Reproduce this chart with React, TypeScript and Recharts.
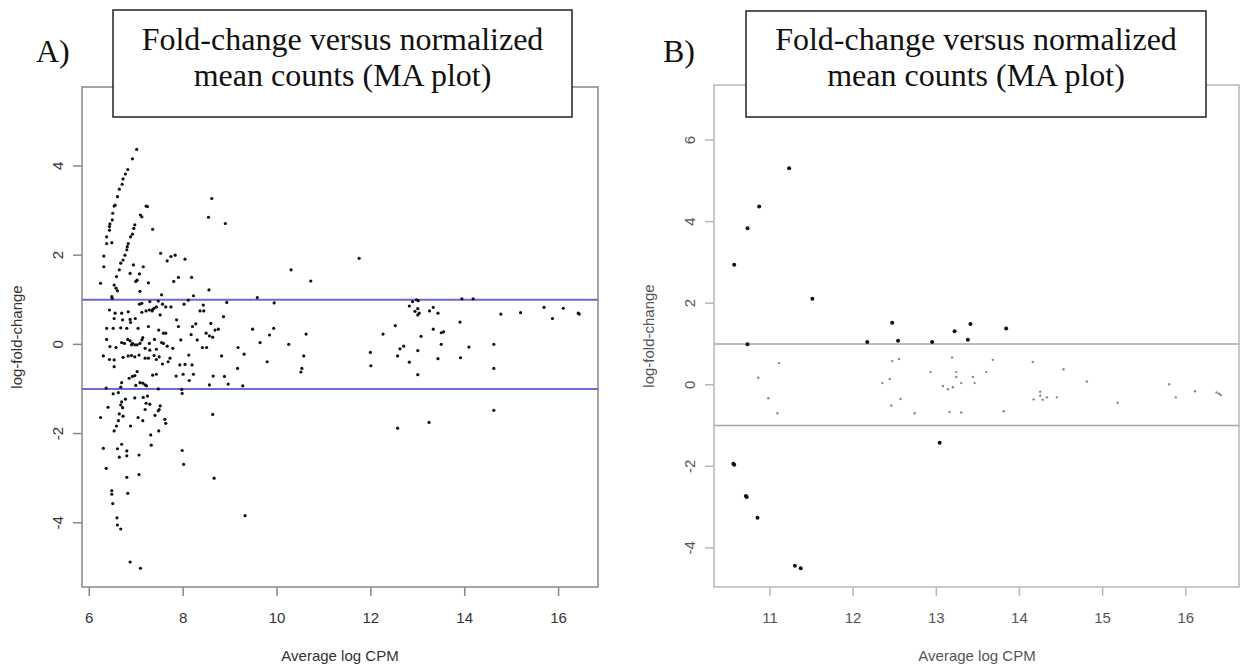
import React from "react";
import {
  ScatterChart,
  Scatter,
  XAxis,
  YAxis,
  ReferenceLine,
  ReferenceArea,
} from "recharts";

type Pt = [number, number];

// ---- panel A (blue thresholds) ----
const A_X_TICKS = [6, 8, 10, 12, 14, 16];
const A_Y_TICKS = [-4, -2, 0, 2, 4];

// the two arcs of points climbing up on the left
const aArcs: Pt[] = [
  [7.01, 4.37], [6.92, 4.16], [6.82, 3.92], [6.77, 3.82], [6.72, 3.71], [6.7, 3.59],
  [6.64, 3.48], [6.6, 3.31], [6.55, 3.12], [6.53, 3.1], [6.5, 2.94], [6.49, 2.79],
  [6.44, 2.7], [6.43, 2.64], [6.43, 2.56], [6.37, 2.41], [6.37, 2.26], [6.48, 2.28],
  [6.31, 1.98], [6.31, 1.74], [6.24, 1.37],
  [7.21, 3.1], [7.24, 3.09], [7.09, 2.9], [7.12, 2.86], [6.97, 2.68], [6.95, 2.6],
  [6.92, 2.47], [6.88, 2.41], [6.83, 2.26], [6.81, 2.19], [6.8, 2.12], [6.76, 2.0],
  [6.72, 1.89], [6.67, 1.82], [6.64, 1.67], [6.58, 1.52], [6.53, 1.33], [6.57, 1.26],
  [6.6, 1.2], [6.48, 1.07], [6.49, 1.03],
];

const aUpper: Pt[] = [
  [7.35, 2.58], [7.52, 2.04], [7.66, 1.87], [7.74, 1.97], [7.83, 2.0], [8.04, 1.91],
  [6.94, 1.78], [7.15, 1.74], [7.07, 1.58], [6.87, 1.59], [7.02, 1.44], [6.99, 1.41],
  [7.26, 1.38], [7.8, 1.41], [7.9, 1.5], [8.18, 1.5], [7.08, 1.19], [7.54, 1.11],
  [8.22, 1.09], [8.55, 1.22], [8.61, 3.27], [8.54, 2.85], [8.9, 2.71], [8.11, 0.99],
  [9.58, 1.05], [10.3, 1.67], [10.72, 1.42], [11.75, 1.93],
];

const aBand: Pt[] = [
  [8.93, 0.94], [9.94, 0.93], [7.29, 0.96], [7.47, 0.97], [7.07, 0.9], [7.12, 0.92],
  [7.38, 0.81], [7.35, 0.78], [7.43, 0.84], [7.56, 0.9], [7.63, 0.84], [7.74, 0.84],
  [8.02, 0.9], [8.43, 0.88], [6.43, 0.77], [6.55, 0.7], [6.69, 0.7], [6.83, 0.73],
  [7.21, 0.75], [7.28, 0.77], [7.51, 0.66], [6.53, 0.58], [6.71, 0.55], [6.87, 0.56],
  [6.98, 0.58], [7.12, 0.72], [7.34, 0.75], [7.86, 0.55], [8.36, 0.75], [8.44, 0.75],
  [6.37, 0.36], [6.51, 0.36], [6.67, 0.37], [6.8, 0.36], [6.88, 0.49], [7.04, 0.36],
  [7.26, 0.4], [7.48, 0.32], [7.58, 0.25], [7.63, 0.25], [7.9, 0.4], [8.2, 0.4],
  [8.27, 0.46], [8.59, 0.47], [8.68, 0.32], [8.75, 0.34], [8.86, 0.62], [8.49, 0.25],
  [8.56, 0.19], [8.63, 0.16], [9.48, 0.34], [9.93, 0.36], [9.84, 0.21],
  [6.37, 0.11], [6.44, -0.05], [6.57, -0.07], [6.69, 0.04], [6.75, 0.02], [6.82, 0.11],
  [6.87, 0.08], [6.9, -0.01], [6.92, 0.02], [6.97, -0.01], [7.02, -0.01], [7.08, 0.02],
  [7.12, 0.1], [7.14, 0.15], [7.19, -0.09], [7.28, 0.02], [7.29, -0.13], [7.39, 0.11],
  [7.43, -0.11], [7.54, 0.04], [7.58, 0.02], [7.66, -0.04], [7.78, -0.09], [7.95, 0.1],
  [8.17, 0.22], [8.3, 0.1], [8.41, -0.07], [8.5, -0.07], [9.17, -0.07], [9.64, 0.04],
  [6.3, -0.26], [6.43, -0.34], [6.53, -0.35], [6.53, -0.5], [6.72, -0.29], [6.83, -0.26],
  [6.9, -0.25], [6.97, -0.28], [7.06, -0.24], [7.19, -0.31], [7.26, -0.31], [7.38, -0.25],
  [7.43, -0.34], [7.49, -0.28], [7.56, -0.44], [7.68, -0.39], [7.72, -0.31], [7.93, -0.46],
  [8.04, -0.45], [8.12, -0.24], [8.19, -0.46], [8.82, -0.26], [9.3, -0.22], [9.79, -0.39],
  [9.16, -0.54], [6.69, -0.86], [6.85, -0.76], [6.92, -0.72], [6.97, -0.7], [7.02, -0.61],
  [6.99, -0.92], [7.08, -0.86], [7.14, -0.87], [7.19, -0.91], [7.22, -0.93], [7.35, -0.69],
  [7.43, -0.67], [7.85, -0.71], [8.0, -0.67], [8.22, -0.67], [8.13, -0.81], [8.64, -0.71],
  [8.88, -0.72], [8.96, -0.89], [9.27, -0.93], [8.56, -0.91], [6.36, -0.98], [6.67, -0.96],
  [7.47, -1.0], [7.97, -1.01],
  [10.62, 0.23], [10.25, 0.0], [10.57, -0.26], [10.53, -0.54], [10.51, -0.62],
  [12.82, 0.86], [12.89, 0.96], [12.97, 1.0], [13.01, 0.98], [12.94, 0.74], [13.0, 0.8],
  [13.03, 0.7], [13.0, 0.66], [13.25, 0.75], [13.33, 0.83], [13.43, 0.7], [13.94, 1.02],
  [14.18, 1.02], [13.9, 0.5], [12.52, 0.42], [12.26, 0.23], [13.33, 0.34], [13.5, 0.26],
  [13.55, 0.28], [13.07, 0.18], [13.5, 0.0], [12.7, -0.04], [12.62, -0.1], [12.57, -0.26],
  [13.0, -0.14], [12.82, -0.4], [13.43, -0.32], [13.91, -0.3], [14.09, -0.06], [13.0, -0.68],
  [11.99, -0.18], [12.0, -0.48], [14.62, 0.0], [14.62, -0.54], [14.77, 0.68], [15.19, 0.71],
  [15.69, 0.83], [15.87, 0.58], [16.1, 0.81], [16.42, 0.7], [16.44, 0.68],
];

const aLower: Pt[] = [
  [6.51, -1.11], [6.62, -1.08], [6.77, -1.23], [6.97, -1.2], [7.15, -1.19], [7.24, -1.16],
  [7.98, -1.1], [6.4, -1.41], [6.69, -1.29], [6.67, -1.36], [6.71, -1.42], [6.24, -1.64],
  [6.64, -1.56], [6.72, -1.61], [7.21, -1.32], [7.29, -1.34], [7.19, -1.46], [7.51, -1.38],
  [7.49, -1.46], [7.47, -1.49], [7.04, -1.64], [7.14, -1.71], [7.4, -1.59], [7.61, -1.68],
  [7.63, -1.77], [6.62, -1.71], [6.58, -1.83], [6.53, -1.94], [6.88, -1.83], [7.48, -1.94],
  [7.31, -2.03], [7.32, -2.26], [6.3, -2.33], [6.6, -2.34], [6.69, -2.24], [6.8, -2.39],
  [6.8, -2.5], [6.64, -2.53], [7.06, -2.48], [6.36, -2.78], [7.98, -2.38], [8.01, -2.69],
  [8.63, -1.57], [8.66, -3.0], [6.8, -2.98], [7.06, -2.92], [6.48, -3.28], [6.48, -3.36],
  [6.82, -3.34], [6.5, -3.57], [6.59, -3.89], [6.6, -4.05], [6.67, -4.14], [9.32, -3.84],
  [6.87, -4.88], [7.09, -5.02], [14.62, -1.48], [12.57, -1.88], [13.24, -1.75],
];

// ---- panel B (grey thresholds) ----
const B_X_TICKS = [11, 12, 13, 14, 15, 16];
const B_Y_TICKS = [-4, -2, 0, 2, 4, 6];

const bDark: Pt[] = [
  [11.23, 5.31], [10.87, 4.37], [10.73, 3.84], [10.57, 2.94], [11.51, 2.11], [12.47, 1.52],
  [12.54, 1.08], [12.17, 1.05], [10.73, 0.99], [13.41, 1.49], [13.22, 1.31], [13.38, 1.1],
  [12.95, 1.05], [13.84, 1.38], [13.04, -1.42], [10.56, -1.94], [10.57, -1.96],
  [10.71, -2.73], [10.72, -2.75], [10.85, -3.26], [11.3, -4.44], [11.37, -4.5],
];

const bLight: Pt[] = [
  [11.11, 0.53], [10.86, 0.17], [12.47, 0.58], [12.55, 0.63], [12.35, 0.04], [12.44, 0.14],
  [10.98, -0.33], [11.09, -0.7], [12.46, -0.51], [12.57, -0.35], [12.74, -0.7],
  [13.19, 0.67], [13.68, 0.61], [14.16, 0.56], [12.93, 0.31], [13.24, 0.31], [13.24, 0.19],
  [13.6, 0.31], [14.53, 0.38], [13.44, 0.19], [13.3, 0.04], [13.46, 0.04], [13.08, -0.03],
  [13.14, -0.11], [13.2, -0.06], [14.81, 0.08], [14.25, -0.17], [14.25, -0.27], [14.17, -0.36],
  [14.28, -0.37], [14.33, -0.31], [14.45, -0.31], [15.18, -0.44], [15.8, 0.01], [15.88, -0.31],
  [16.11, -0.16], [16.37, -0.19], [16.4, -0.22], [16.42, -0.25], [13.16, -0.67], [13.3, -0.68],
  [13.81, -0.65],
];

const toRows = (pts: Pt[]) => pts.map(([x, y]) => ({ x, y }));

const SANS = "'Liberation Sans', Arial, sans-serif";
const SERIF = "'Liberation Serif', 'Times New Roman', serif";

type Series = { rows: Pt[]; r: number; fill: string };

type PanelProps = {
  left: number;
  width: number;
  plot: { l: number; r: number; t: number; b: number };
  xDomain: [number, number];
  yDomain: [number, number];
  xTicks: number[];
  yTicks: number[];
  lineColor: string;
  lineWidth: number;
  boxColor: string;
  textColor: string;
  series: Series[];
};

function Panel(p: PanelProps) {
  const H = 668;
  const AX = 40;
  const yLabelX = p.plot.l - 19 - p.left; // baseline of rotated tick labels
  const xLabelY = 623;

  const YTick = (props: any) => (
    <text
      x={yLabelX}
      y={props.y}
      transform={`rotate(-90 ${yLabelX} ${props.y})`}
      textAnchor="middle"
      fontFamily={SANS}
      fontSize={15}
      fill={p.textColor}
    >
      {props.payload.value}
    </text>
  );
  const XTick = (props: any) => (
    <text
      x={props.x}
      y={xLabelY}
      textAnchor="middle"
      fontFamily={SANS}
      fontSize={15}
      fill={p.textColor}
    >
      {props.payload.value}
    </text>
  );

  return (
    <div style={{ position: "absolute", left: p.left, top: 0 }}>
      <ScatterChart
        width={p.width}
        height={H}
        margin={{
          top: p.plot.t,
          bottom: H - p.plot.b - AX,
          left: p.plot.l - p.left - AX,
          right: p.left + p.width - p.plot.r,
        }}
      >
        <XAxis
          type="number"
          dataKey="x"
          domain={p.xDomain}
          ticks={p.xTicks}
          allowDataOverflow
          height={AX}
          axisLine={false}
          tickSize={9}
          tickLine={{ stroke: p.boxColor, strokeWidth: 1.5 }}
          tick={XTick}
          interval={0}
        />
        <YAxis
          type="number"
          dataKey="y"
          domain={p.yDomain}
          ticks={p.yTicks}
          allowDataOverflow
          width={AX}
          axisLine={false}
          tickSize={9}
          tickLine={{ stroke: p.boxColor, strokeWidth: 1.5 }}
          tick={YTick}
          interval={0}
        />
        <ReferenceArea
          x1={p.xDomain[0]}
          x2={p.xDomain[1]}
          y1={p.yDomain[0]}
          y2={p.yDomain[1]}
          fill="#fff"
          fillOpacity={0}
          stroke={p.boxColor}
          strokeWidth={1.5}
        />
        <ReferenceLine y={1} stroke={p.lineColor} strokeWidth={p.lineWidth} />
        <ReferenceLine y={-1} stroke={p.lineColor} strokeWidth={p.lineWidth} />
        {p.series.map((s, i) => (
          <Scatter
            key={i}
            data={toRows(s.rows)}
            isAnimationActive={false}
            shape={(d: any) => <circle cx={d.cx} cy={d.cy} r={s.r} fill={s.fill} />}
          />
        ))}
      </ScatterChart>
    </div>
  );
}

function TitleBox({ x, y, w, h }: { x: number; y: number; w: number; h: number }) {
  const cx = x + w / 2;
  return (
    <g>
      <rect x={x} y={y} width={w} height={h} fill="#fff" stroke="#222" strokeWidth={1.5} />
      <text x={cx} y={50} textAnchor="middle" fontFamily={SERIF} fontSize={32} fill="#111">
        Fold-change versus normalized
      </text>
      <text x={cx} y={86} textAnchor="middle" fontFamily={SERIF} fontSize={32} fill="#111">
        mean counts (MA plot)
      </text>
    </g>
  );
}

export default function App() {
  return (
    <div
      style={{
        position: "absolute",
        left: 0,
        top: 0,
        width: 1244,
        height: 668,
        background: "#fff",
        overflow: "hidden",
      }}
    >
      <Panel
        left={0}
        width={620}
        plot={{ l: 82, r: 598, t: 87, b: 587 }}
        xDomain={[5.845, 16.84]}
        yDomain={[-5.44, 5.77]}
        xTicks={A_X_TICKS}
        yTicks={A_Y_TICKS}
        lineColor="#6a6ad8"
        lineWidth={2}
        boxColor="#888"
        textColor="#333"
        series={[
          { rows: aArcs, r: 1.6, fill: "#111" },
          { rows: aUpper, r: 1.6, fill: "#111" },
          { rows: aBand, r: 1.6, fill: "#111" },
          { rows: aLower, r: 1.6, fill: "#111" },
        ]}
      />
      <Panel
        left={624}
        width={620}
        plot={{ l: 714, r: 1239, t: 85, b: 587 }}
        xDomain={[10.327, 16.64]}
        yDomain={[-4.96, 7.35]}
        xTicks={B_X_TICKS}
        yTicks={B_Y_TICKS}
        lineColor="#a8a8a8"
        lineWidth={1.5}
        boxColor="#b8b8b8"
        textColor="#555"
        series={[
          { rows: bLight, r: 1.2, fill: "#888" },
          { rows: bDark, r: 2, fill: "#111" },
        ]}
      />
      <svg
        width={1244}
        height={668}
        style={{ position: "absolute", left: 0, top: 0, pointerEvents: "none" }}
      >
        <text x={36} y={62} fontFamily={SERIF} fontSize={32} fill="#111">
          A)
        </text>
        <TitleBox x={113} y={10} w={459} h={107} />
        <text x={663} y={62} fontFamily={SERIF} fontSize={32} fill="#111">
          B)
        </text>
        <TitleBox x={746} y={11} w={460} h={106} />

        <text x={340} y={661} textAnchor="middle" fontFamily={SANS} fontSize={15} fill="#333">
          Average log CPM
        </text>
        <text x={977} y={661} textAnchor="middle" fontFamily={SANS} fontSize={15} fill="#555">
          Average log CPM
        </text>
        <text
          x={22}
          y={337}
          transform="rotate(-90 22 337)"
          textAnchor="middle"
          fontFamily={SANS}
          fontSize={15}
          fill="#333"
        >
          log-fold-change
        </text>
        <text
          x={654}
          y={336}
          transform="rotate(-90 654 336)"
          textAnchor="middle"
          fontFamily={SANS}
          fontSize={15}
          fill="#555"
        >
          log-fold-change
        </text>
      </svg>
    </div>
  );
}
